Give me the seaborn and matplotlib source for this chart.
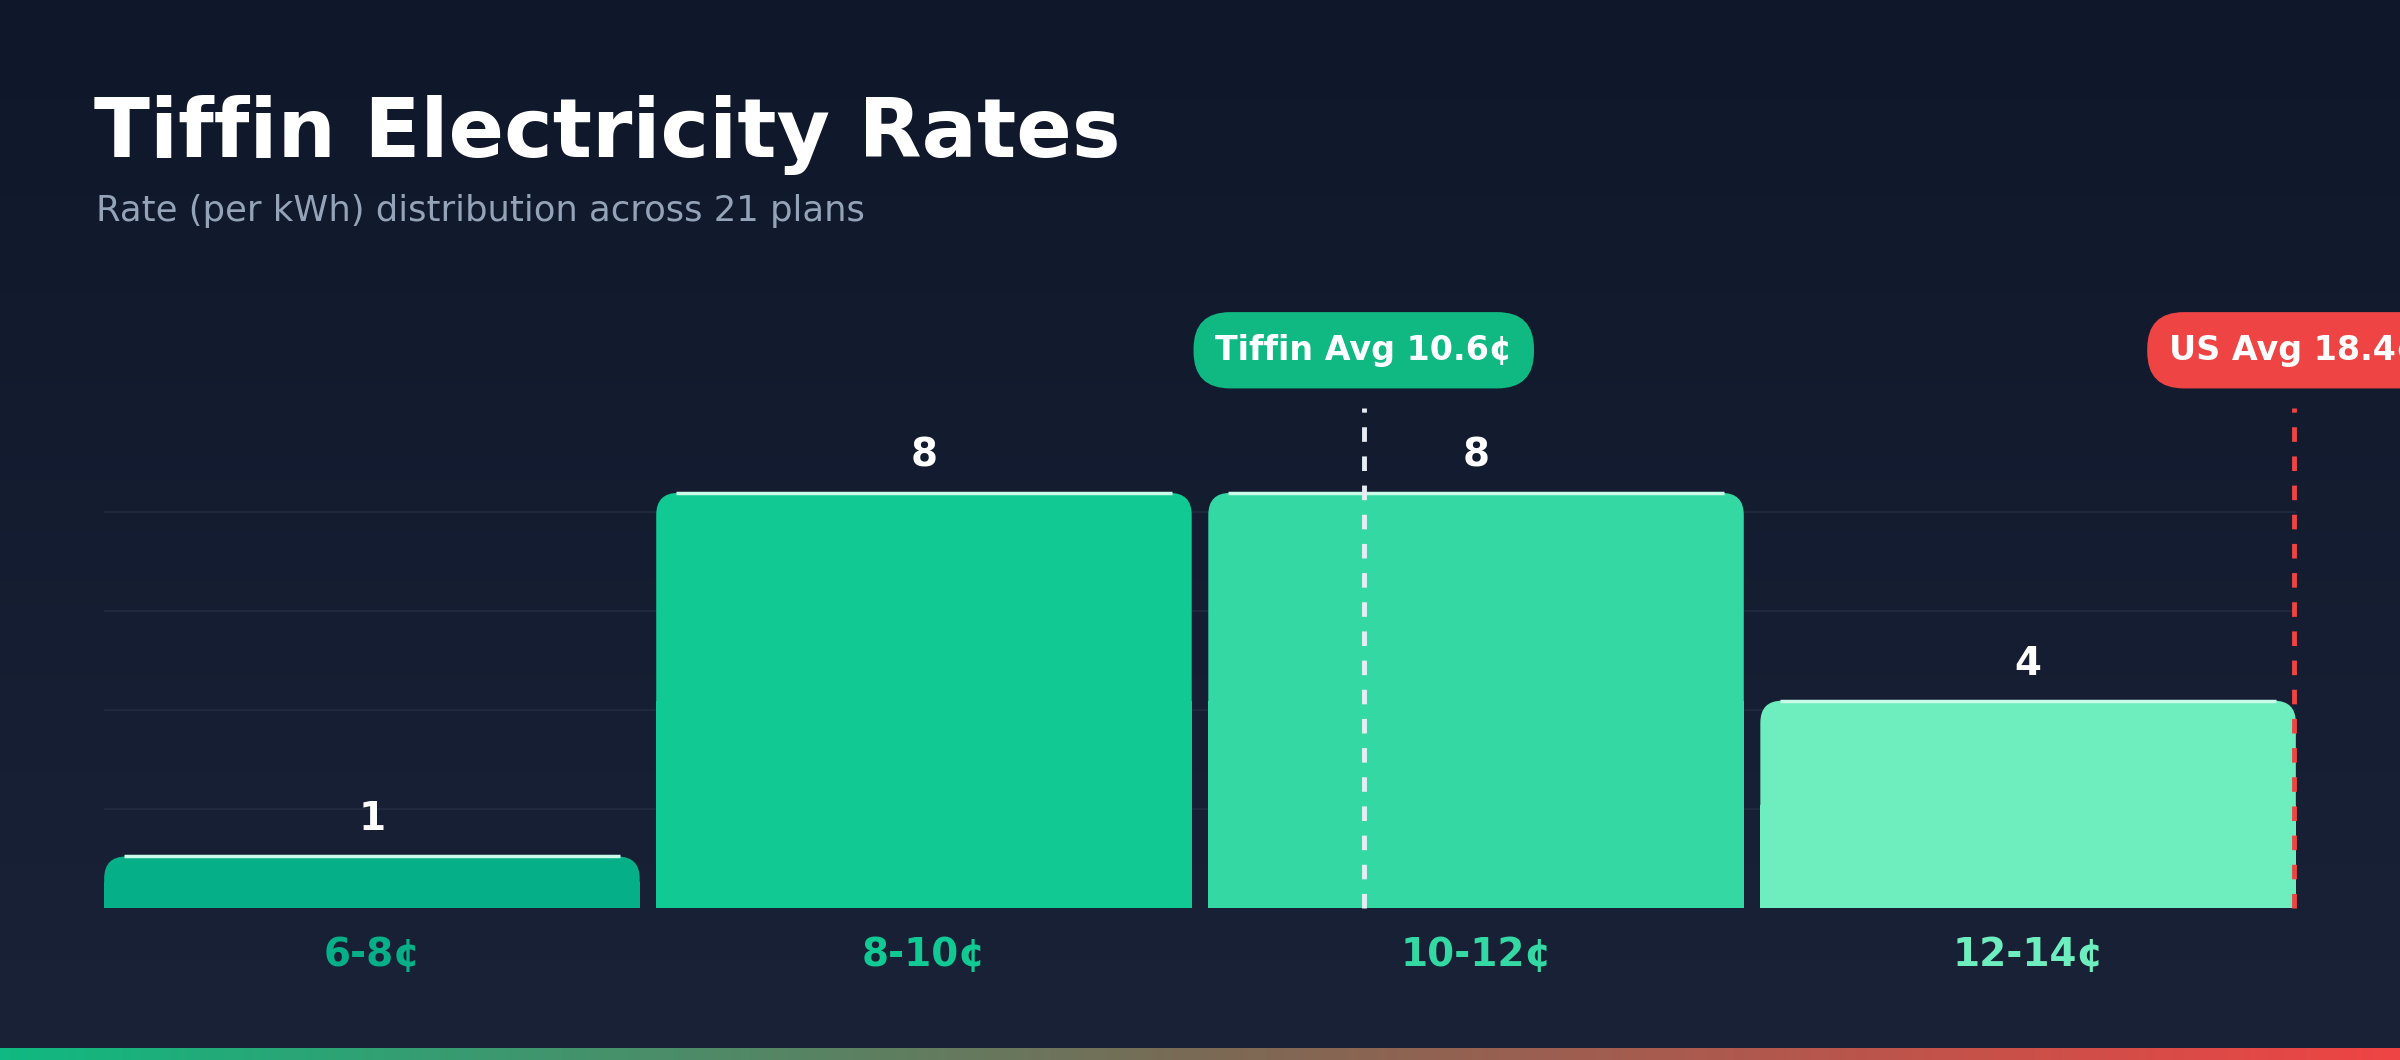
import numpy as np
import pandas as pd
import matplotlib
matplotlib.use("Agg")
import matplotlib.pyplot as plt
import seaborn as sns
from matplotlib.patches import FancyBboxPatch, Rectangle
from matplotlib.colors import LinearSegmentedColormap

categories = ["6-8¢", "8-10¢", "10-12¢", "12-14¢"]
counts = [1, 8, 8, 4]
bar_colors = ["#05b088", "#10c993", "#34d8a3", "#6eeebf"]
tiffin_avg = 10.6
us_avg = 18.4
bin_start, bin_end = 6, 14

sns.set_theme(style="dark")
plt.rcParams['font.family'] = ['DejaVu Sans']

W, H = 24, 10.6
fig = plt.figure(figsize=(W, H), dpi=100)
bg = fig.add_axes([0, 0, 1, 1])
grad = np.linspace(0, 1, 256)[:, None]
cm = LinearSegmentedColormap.from_list("bg", ["#0f172a", "#1a2238"])
bg.imshow(grad, cmap=cm, aspect="auto", extent=[0, 1, 0, 1], origin="upper")
strip = np.linspace(0, 1, 256)[None, :]
cm2 = LinearSegmentedColormap.from_list("st", ["#10b981", "#7a6a55", "#ef4444"])
bg.imshow(strip, cmap=cm2, aspect="auto", extent=[0, 1, 0, 0.011])
bg.set_xlim(0, 1); bg.set_ylim(0, 1); bg.axis("off")

ax = fig.add_axes([0.0434, 0.143, 0.9132, 0.467])
ax.patch.set_alpha(0)
df = pd.DataFrame({"cat": categories, "n": counts})
bw = 0.97
sns.barplot(data=df, x="cat", y="n", hue="cat", palette=bar_colors, legend=False,
            width=bw, ax=ax, saturation=1)
ymax = 9.53
x_lo, x_hi = -bw / 2, 3 + bw / 2
ax.set_ylim(0, ymax)
ax.set_xlim(x_lo, x_hi)
for f in [0.2, 0.4, 0.6, 0.8]:
    ax.axhline(ymax * f, color="#222c40", lw=1.2, zorder=0)

axw = 0.9132 * W * 100; axh = 0.467 * H * 100
xpp = (x_hi - x_lo) / axw; ypp = ymax / axh
r = 22 * xpp
for p, c, n in zip(list(ax.patches), bar_colors, counts):
    x0, w = p.get_x(), p.get_width()
    p.set_visible(False)
    ax.add_patch(FancyBboxPatch((x0, 0), w, n, boxstyle=f"round,pad=0,rounding_size={r}",
                                mutation_aspect=ypp / xpp, fc=c, ec="none", zorder=2))
    ax.add_patch(Rectangle((x0, 0), w, n / 2, fc=c, ec="none", zorder=2))
    ax.plot([x0 + 20 * xpp, x0 + w - 20 * xpp], [n, n], color="#c8fbe8", lw=2.5, zorder=3,
            solid_capstyle="butt")
    ax.text(x0 + w / 2, n + 18 * ypp, str(n), ha="center", va="bottom",
            color="white", fontsize=28, fontweight="bold", zorder=4)

def to_pos(v):
    return x_lo + (v - bin_start) / (bin_end - bin_start) * (x_hi - x_lo)

tx = to_pos(tiffin_avg)
ux = min(to_pos(us_avg), x_hi - 2 * xpp)
ytop = ymax * 1.01
ax.plot([tx, tx], [0, ytop], color="#e8edf5", lw=3.5, ls=(0, (3, 3)), zorder=5, clip_on=False)
ax.plot([ux, ux], [0, ytop], color="#ef4444", lw=3.5, ls=(0, (3, 3)), zorder=5, clip_on=False)

ax.set_xlabel(""); ax.set_ylabel("")
ax.set_yticks([])
ax.tick_params(axis="x", length=0, pad=20)
for lbl, c in zip(ax.get_xticklabels(), bar_colors):
    lbl.set_color(c); lbl.set_fontsize(28); lbl.set_fontweight("bold")
for s in ax.spines.values():
    s.set_visible(False)

fig.text(0.039, 0.873, "Tiffin Electricity Rates", color="white", fontsize=59,
         fontweight="bold", va="center")
fig.text(0.040, 0.801, "Rate (per kWh) distribution across 21 plans", color="#94a3b8",
         fontsize=25.5, va="center")

fig.text(891 / 1568, 1 - 229 / 693, f"Tiffin Avg {tiffin_avg}¢", color="white", fontsize=24,
         fontweight="bold", ha="center", va="center",
         bbox=dict(boxstyle="round,pad=0.65,rounding_size=1.1", fc="#10b981", ec="none"))
fig.text(1417 / 1568, 1 - 229 / 693, f"US Avg {us_avg}¢", color="white", fontsize=24,
         fontweight="bold", ha="left", va="center",
         bbox=dict(boxstyle="round,pad=0.65,rounding_size=1.1", fc="#ef4444", ec="none"))

fig.savefig("out.png", dpi=100)
